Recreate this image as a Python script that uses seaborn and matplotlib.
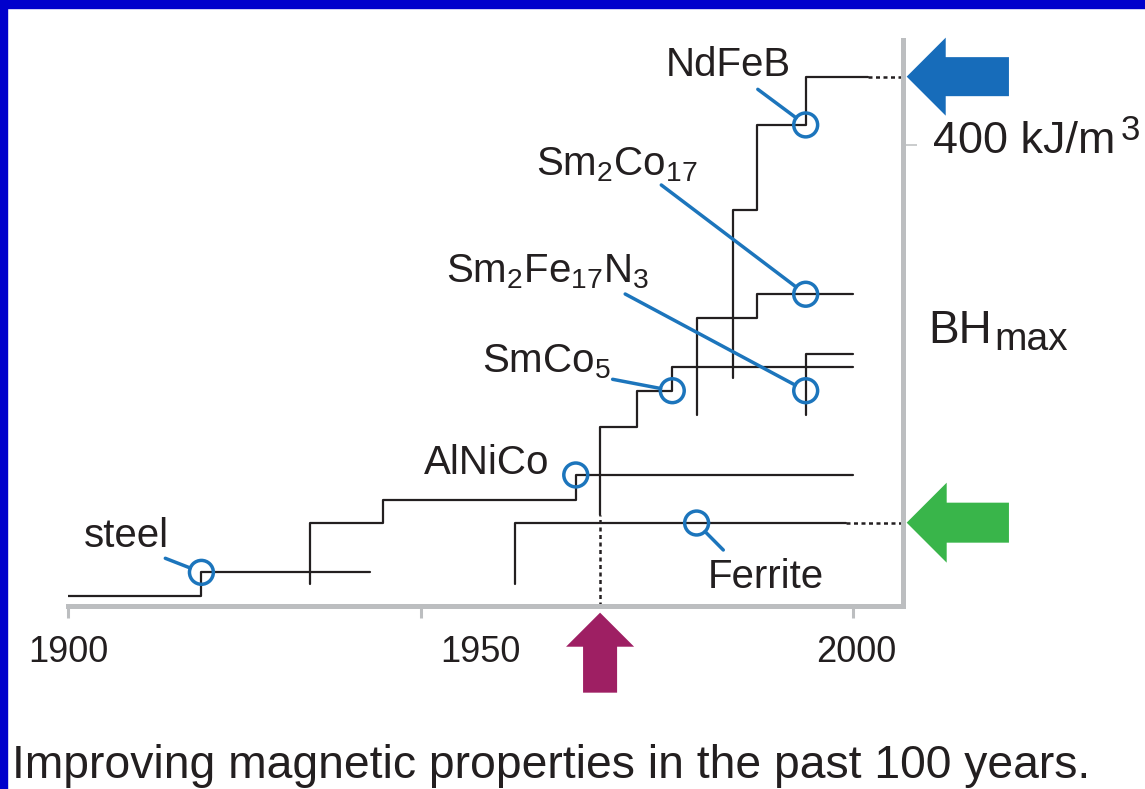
import numpy as np
import pandas as pd
import matplotlib
matplotlib.use('Agg')
import matplotlib.pyplot as plt
from matplotlib.patches import Rectangle
import seaborn as sns

# ---------------- data (year, BHmax in kJ/m^3) ----------------
steel_x = [1900, 1917.0, 1917.0, 1938.5]
steel_y = [9, 9, 29.2, 29.2]
alnico_x = [1930.9, 1930.9, 1940.1, 1940.1, 1964.7, 1964.7, 2000]
alnico_y = [19.1, 72.3, 72.3, 92, 92, 113.7, 113.7]
smco5_x = [1967.8, 1967.8, 1972.5, 1972.5, 1977.0, 1977.0, 2000]
smco5_y = [79, 155.6, 155.6, 186.8, 186.8, 207.6, 207.6]
sm2co17_x = [1980.1, 1980.1, 1987.8, 1987.8, 2000]
sm2co17_y = [165.7, 250.2, 250.2, 270.5, 270.5]
ndfeb_x = [1984.7, 1984.7, 1987.8, 1987.8, 1994.0, 1994.0, 2001.9]
ndfeb_y = [197.6, 343.6, 343.6, 417.4, 417.4, 459.3, 459.3]
sm2fe17n3_x = [1994.0, 1994.0, 2000]
sm2fe17n3_y = [165.7, 218.7, 218.7]
ferrite_x = [1956.9, 1956.9, 1999.2]
ferrite_y = [19.1, 72.0, 72.0]

# dotted extensions
dot_alnico_x = [1967.8, 1967.8]
dot_alnico_y = [0, 79]
dot_ndfeb_x = [2001.9, 2006.4]
dot_ndfeb_y = [459.3, 459.3]
dot_ferrite_x = [1999.2, 2006.4]
dot_ferrite_y = [72.0, 72.0]

# introduced materials (circles)
materials = ['steel', 'AlNiCo', 'SmCo5', 'Sm2Fe17N3', 'Sm2Co17', 'NdFeB', 'Ferrite']
mat_year = [1917.0, 1964.7, 1977.0, 1994.0, 1994.0, 1994.0, 1980.1]
mat_bh = [29.2, 113.7, 186.8, 186.8, 270.5, 417.4, 72.0]
mat_text = ['steel', 'AlNiCo', 'SmCo$_5$', 'Sm$_2$Fe$_{17}$N$_3$',
            'Sm$_2$Co$_{17}$', 'NdFeB', 'Ferrite']

year_ticks = [1900, 1945, 2000]
year_label_pos = [1900, 1952.6, 2000.4]
year_labels = ['1900', '1950', '2000']
bh_ticks = [400]
bh_label_main = '400 kJ/m'
bh_label_sup = '3'
caption = 'Improving magnetic properties in the past 100 years.'

# ---------------- layout ----------------
XLIM = (1900, 2006.4)
YLIM = (0, 491.1)
label_pos = {
    'steel': (1907.5, 50.9), 'AlNiCo': (1953.3, 114.5), 'SmCo5': (1960.9, 202.4),
    'Sm2Fe17N3': (1961.1, 281.1), 'Sm2Co17': (1969.9, 374.0),
    'NdFeB': (1984.2, 459.9), 'Ferrite': (1988.9, 15.4)}
leader_start = {
    'steel': (1912.4, 41.4), 'SmCo5': (1969.4, 196.7), 'Sm2Fe17N3': (1971.0, 270.7),
    'Sm2Co17': (1975.6, 365.3), 'NdFeB': (1987.9, 448.3)}
ferrite_leader_end = (1983.5, 48.6)

sns.set_style('white')
plt.rcParams['font.family'] = ['Liberation Sans', 'DejaVu Sans']
plt.rcParams['mathtext.fontset'] = 'custom'
plt.rcParams['mathtext.rm'] = 'Liberation Sans'
plt.rcParams['mathtext.it'] = 'Liberation Sans:italic'
plt.rcParams['mathtext.bf'] = 'Liberation Sans:bold'
plt.rcParams['mathtext.default'] = 'regular'

TXT = '#231F20'
LINE = '#231F20'
BLUE = '#1C75BC'
GRAY = '#BCBEC0'

W, H = 1145, 789
fig = plt.figure(figsize=(W / 100, H / 100), dpi=100)
fig.patch.set_facecolor('white')
ax = fig.add_axes([68 / W, (H - 606) / H, (903 - 68) / W, (606 - 40) / H])
ax.set_facecolor('white')

# step lines
for xs, ys in [(steel_x, steel_y), (alnico_x, alnico_y), (smco5_x, smco5_y),
               (sm2co17_x, sm2co17_y), (ndfeb_x, ndfeb_y),
               (sm2fe17n3_x, sm2fe17n3_y), (ferrite_x, ferrite_y)]:
    sns.lineplot(x=xs, y=ys, sort=False, estimator=None, color=LINE, lw=1.6, ax=ax, zorder=2)
for xs, ys in [(dot_alnico_x, dot_alnico_y), (dot_ndfeb_x, dot_ndfeb_y),
               (dot_ferrite_x, dot_ferrite_y)]:
    ax.plot(xs, ys, color=LINE, lw=1.8, ls=(0, (1.6, 1.4)), zorder=2, clip_on=False)

# circles
R_PT = 8.6
sns.scatterplot(x=mat_year, y=mat_bh, marker='o', s=(2 * R_PT) ** 2, facecolors='none',
                edgecolor=BLUE, linewidth=2.5, ax=ax, zorder=5, clip_on=False)

# labels and leaders
for name, yr, bh, txt in zip(materials, mat_year, mat_bh, mat_text):
    lx, ly = label_pos[name]
    ax.text(lx, ly, txt, fontsize=29, color=TXT, ha='center', va='baseline', zorder=6)
    if name in leader_start:
        ax.annotate('', xy=(yr, bh), xytext=leader_start[name], annotation_clip=False,
                    arrowprops=dict(arrowstyle='-', color=BLUE, lw=2.5,
                                    shrinkA=0, shrinkB=R_PT), zorder=4)
    if name == 'Ferrite':
        ax.annotate('', xy=ferrite_leader_end, xytext=(yr, bh), annotation_clip=False,
                    arrowprops=dict(arrowstyle='-', color=BLUE, lw=2.5,
                                    shrinkA=R_PT, shrinkB=0), zorder=4)

# axes styling
for s in ['left', 'top']:
    ax.spines[s].set_visible(False)
for s in ['bottom', 'right']:
    ax.spines[s].set_visible(True)
    ax.spines[s].set_color(GRAY)
    ax.spines[s].set_linewidth(3.6)
ax.xaxis.remove_overlapping_locs = False
ax.set_xticks(year_ticks, labels=['', '', ''])
ax.set_xticks(year_label_pos, labels=year_labels, minor=True)
ax.tick_params(axis='x', which='major', direction='out', length=8.6, width=2.2, color=GRAY, bottom=True)
ax.tick_params(axis='x', which='minor', length=0, pad=21, labelsize=26, labelcolor=TXT, bottom=True)
ax.yaxis.tick_right()
ax.set_yticks(bh_ticks, labels=[''])
ax.tick_params(axis='y', direction='out', length=10, width=1.1, color=GRAY, right=True, left=False)
ax.grid(False)
ax.set_xlim(*XLIM)
ax.set_ylim(*YLIM)

# y label at the 400 tick, and the quantity name
ax.text(2010.2, 393.1, bh_label_main, fontsize=32.3, color=TXT, ha='left', va='baseline')
ax.text(2034.2, 404.3, bh_label_sup, fontsize=25, color=TXT, ha='left', va='baseline')
ax.text(2009.6, 228.2, 'BH', fontsize=33, color=TXT, ha='left', va='baseline')
ax.text(2018.0, 222.1, 'max', fontsize=28, color=TXT, ha='left', va='baseline')

# big arrows
ax.annotate('', xy=(2006.87, 459.3), xytext=(2019.9, 459.3), annotation_clip=False,
            arrowprops=dict(arrowstyle='simple,head_length=1,head_width=2,tail_width=1',
                            mutation_scale=28.1, color='#176CBA', lw=0, shrinkA=0, shrinkB=0))
ax.annotate('', xy=(2006.87, 72.3), xytext=(2019.9, 72.3), annotation_clip=False,
            arrowprops=dict(arrowstyle='simple,head_length=1,head_width=2,tail_width=1',
                            mutation_scale=28.8, color='#39B54A', lw=0, shrinkA=0, shrinkB=0))
ax.annotate('', xy=(1967.8, -5.8), xytext=(1967.8, -75.2), annotation_clip=False,
            arrowprops=dict(arrowstyle='simple,head_length=1,head_width=2,tail_width=1',
                            mutation_scale=24.5, color='#9E1F63', lw=0, shrinkA=0, shrinkB=0))

# caption
fig.text(12 / W, 1 - 778 / H, caption, fontsize=33.3, color=TXT, ha='left', va='baseline')

# blue frame (top and left)
fig.patches.append(Rectangle((0, 1 - 7.5 / H), 1, 7.5 / H, transform=fig.transFigure,
                             color='#0000CC', zorder=10))
fig.patches.append(Rectangle((0, 0), 7 / W, 1, transform=fig.transFigure,
                             color='#0000CC', zorder=10))

fig.savefig('out.png', dpi=100, facecolor='white')
